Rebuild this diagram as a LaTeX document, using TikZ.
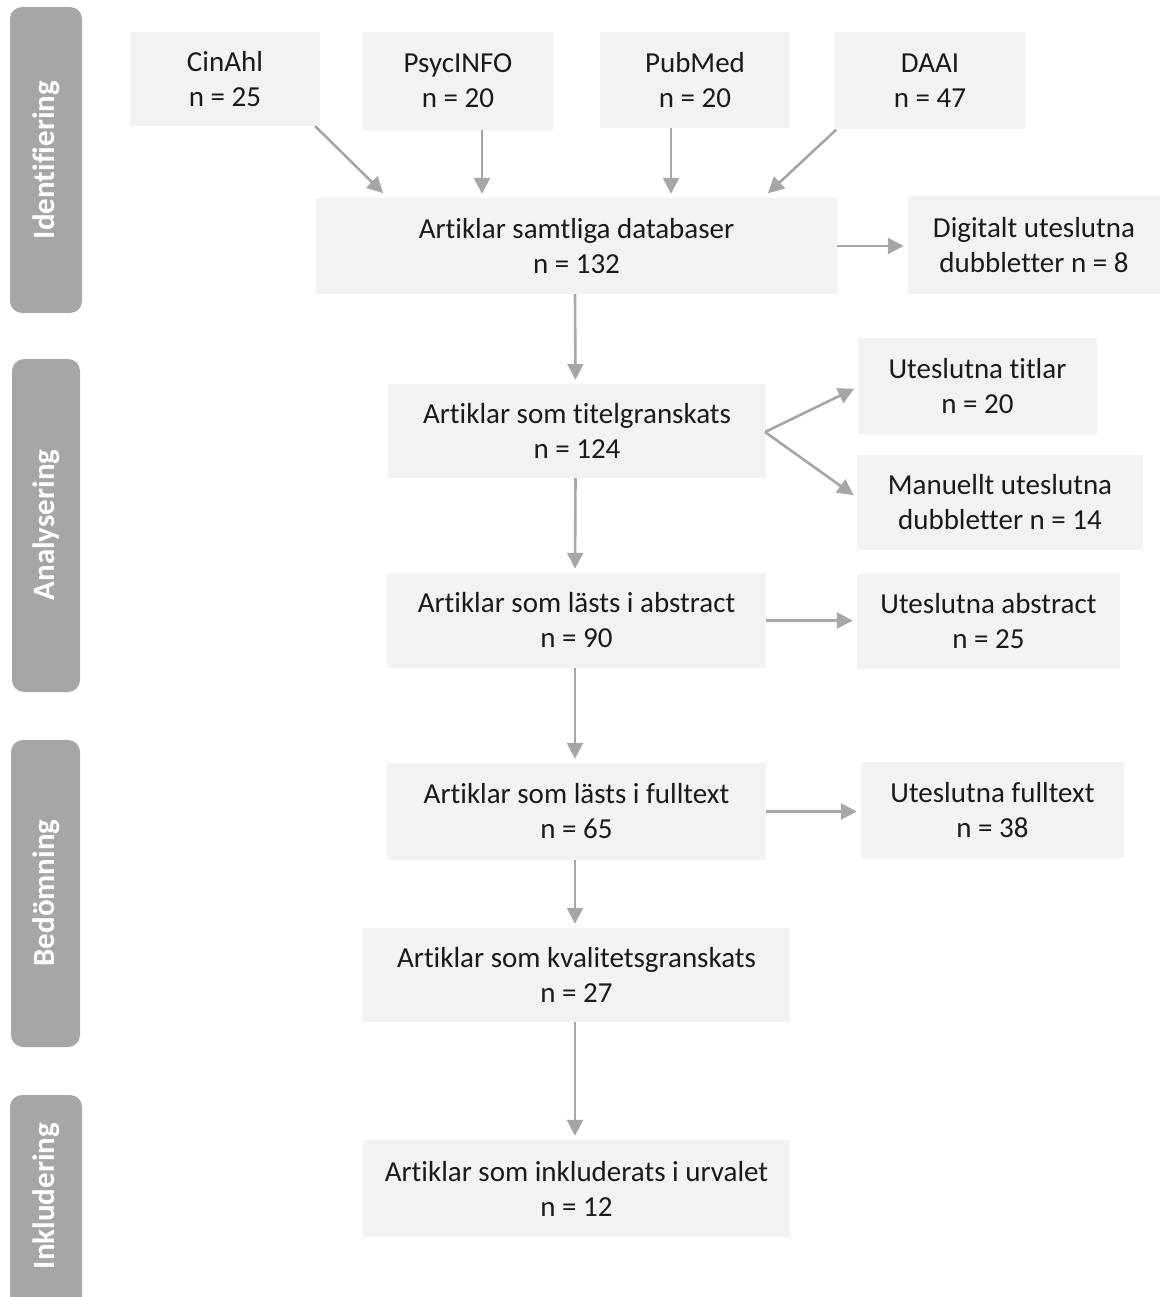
\documentclass[tikz,border=0pt]{standalone}
\usepackage{fontspec}
\setmainfont{Carlito}[RawFeature=-liga]
\usetikzlibrary{arrows.meta}
\definecolor{boxfill}{HTML}{F2F2F2}
\definecolor{bar}{HTML}{A6A6A6}
\definecolor{arr}{HTML}{A6A6A6}
\definecolor{txt}{HTML}{1A1A1A}
\begin{document}
\begin{tikzpicture}[x=1pt,y=-1pt,
  box/.style={fill=boxfill, draw=none, inner sep=0pt, align=center, text=txt,
    font=\fontsize{29}{35}\selectfont},
  sidebar/.style={fill=bar, draw=none, rounded corners=12pt},
  sidelabel/.style={text=white, rotate=90, font=\fontsize{31}{34}\selectfont\bfseries},
  conn/.style={draw=arr, line width=2.6pt, -{Triangle[length=16pt,width=16pt]}, shorten >=4pt}
]
\useasboundingbox (0,0) rectangle (1167,1297);
% side bars
\fill[sidebar] (10,7) rectangle (82,313);
\node[sidelabel] (l1) at (46,160) {Identifiering};
\fill[sidebar] (12,359) rectangle (80,692);
\node[sidelabel] (l2) at (46,525) {Analysering};
\fill[sidebar] (11,740) rectangle (80,1047);
\node[sidelabel] (l3) at (46,893) {Bedömning};
\fill[sidebar] (10,1095) rectangle (82,1320);
\node[sidelabel] (l4) at (46,1196) {Inkludering};
% boxes
\node[box, minimum width=190pt, minimum height=94pt] (cin) at (225,79) {CinAhl\\n = 25};
\node[box, minimum width=190pt, minimum height=98pt] (psy) at (458,81) {PsycINFO\\n = 20};
\node[box, minimum width=190pt, minimum height=96pt] (pub) at (695,80) {PubMed\\n = 20};
\node[box, minimum width=190pt, minimum height=97pt] (daai) at (930,81) {DAAI\\n = 47};
\node[box, minimum width=521pt, minimum height=96pt] (all) at (576.5,246) {Artiklar samtliga databaser\\n = 132};
\node[box, minimum width=252pt, minimum height=98pt] (dig) at (1034,245) {Digitalt uteslutna\\dubbletter n = 8};
\node[box, minimum width=378pt, minimum height=94pt] (tit) at (577,431) {Artiklar som titelgranskats\\n = 124};
\node[box, minimum width=239pt, minimum height=96pt] (uti) at (977.5,386) {Uteslutna titlar\\n = 20};
\node[box, minimum width=286pt, minimum height=95pt] (man) at (1000,502.5) {Manuellt uteslutna\\dubbletter n = 14};
\node[box, minimum width=379pt, minimum height=95pt] (abs) at (576.5,620.5) {Artiklar som lästs i abstract\\n = 90};
\node[box, minimum width=263pt, minimum height=95pt] (uab) at (988.5,621.5) {Uteslutna abstract\\n = 25};
\node[box, minimum width=379pt, minimum height=97pt] (ful) at (576.5,811.5) {Artiklar som lästs i fulltext\\n = 65};
\node[box, minimum width=263pt, minimum height=96pt] (ufu) at (992.5,810) {Uteslutna fulltext\\n = 38};
\node[box, minimum width=427pt, minimum height=94pt] (kva) at (576.5,975) {Artiklar som kvalitetsgranskats\\n = 27};
\node[box, minimum width=427pt, minimum height=97pt] (ink) at (576.5,1188.5) {Artiklar som inkluderats i urvalet\\n = 12};
% connectors
\coordinate (split) at (765,432);
\draw[conn] ([xshift=-5pt]cin.south east) -- (386,196);
\draw[conn] (psy.south) ++(24,0) coordinate (p1) -- (p1 |- all.north);
\draw[conn] (pub.south) ++(-24,0) coordinate (p2) -- (p2 |- all.north);
\draw[conn] ([xshift=-189pt]daai.south east) -- (765,196);
\draw[conn] (all.east) -- (all.east -| dig.west);
\draw[conn] ([xshift=-1.5pt]all.south) -- ([xshift=-1.5pt]tit.north);
\draw[conn, shorten <=0pt] (split) -- ([yshift=-1pt]uti.west);
\draw[conn, shorten <=0pt] (split) -- ([yshift=5pt]man.west);
\draw[conn] ([xshift=-1.5pt]tit.south) -- ([xshift=-1.5pt]abs.north);
\draw[conn] (abs.east) -- (abs.east -| uab.west);
\draw[conn] ([xshift=-1.5pt]abs.south) -- ([xshift=-1.5pt]ful.north);
\draw[conn] (ful.east) -- (ful.east -| ufu.west);
\draw[conn] ([xshift=-1.5pt]ful.south) -- ([xshift=-1.5pt]kva.north);
\draw[conn] ([xshift=-1.5pt]kva.south) -- ([xshift=-1.5pt]ink.north);
\end{tikzpicture}
\end{document}
